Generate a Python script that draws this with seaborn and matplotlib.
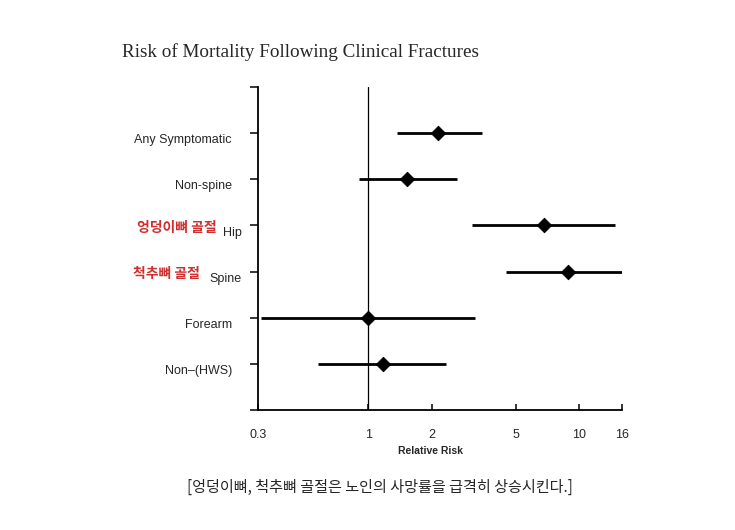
import matplotlib
matplotlib.use("Agg")
import matplotlib.pyplot as plt
import matplotlib.transforms as mtransforms
import seaborn as sns
import pandas as pd

# Relative risk with 95% CI (log scale)
fractures = ["Any Symptomatic", "Non-spine", "Hip", "Spine", "Forearm", "Non\u2013(HWS)"]
rr = [2.15, 1.53, 6.8, 8.9, 1.0, 1.18]
ci_low = [1.37, 0.90, 3.1, 4.5, 0.31, 0.58]
ci_high = [3.45, 2.65, 14.8, 16.4, 3.2, 2.33]
korean = {"Hip": "엉덩이뼈 골절", "Spine": "척추뼈 골절"}
xticks = [0.3, 1, 2, 5, 10, 16]

df = pd.DataFrame({"fracture": fractures, "rr": rr, "lo": ci_low, "hi": ci_high})
df["row"] = range(len(df), 0, -1)

sns.set_style("white")
fig = plt.figure(figsize=(7.35, 5.30), dpi=100)
ax = fig.add_axes([258 / 735, 1 - 410 / 530, 364 / 735, 323 / 530])

ax.hlines(df["row"], df["lo"], df["hi"], color="black", lw=2, zorder=2)
sns.scatterplot(data=df, x="rr", y="row", marker="D", s=55, color="black",
                edgecolor="black", zorder=3, ax=ax, legend=False)
ax.axvline(1, color="black", lw=0.9, zorder=1)

ax.set_xscale("log")
ax.set_xlim(0.3, 16)
ax.set_ylim(0, 7)
ax.set_xticks(xticks)
ax.set_xticklabels([str(t) for t in xticks], fontsize=9, family="Liberation Sans")
ax.minorticks_off()
ax.set_yticks(range(0, 8))
ax.set_yticklabels([])
ax.tick_params(axis="y", left=True, direction="out", length=5.5, width=1.1, color="black")
ax.tick_params(axis="x", bottom=True, direction="in", length=4.5, width=1.1, color="black", pad=14)

for side in ["top", "right"]:
    ax.spines[side].set_visible(False)
for side in ["left", "bottom"]:
    ax.spines[side].set_color("black")
    ax.spines[side].set_linewidth(1.3)

ax.set_xlabel("Relative Risk", fontsize=7.5, fontweight="bold", family="Liberation Sans")
ax.xaxis.set_label_coords((430 - 258) / 364, (410 - 446) / 323)
ax.set_ylabel("")

trans = mtransforms.blended_transform_factory(ax.transAxes, ax.transData)
for _, r in df.iterrows():
    name = r["fracture"]
    if name in korean:
        ax.text(-0.045, r["row"] - 0.17, name, transform=trans, ha="right", va="center",
                fontsize=9, family="Liberation Sans")
        kx = -0.115 if name == "Hip" else -0.16
        ax.text(kx, r["row"] - 0.06, korean[name], transform=trans, ha="right", va="center",
                fontsize=10, fontweight="bold", color="#d02f2f",
                family=["Noto Sans CJK KR", "DejaVu Sans"])
    else:
        ax.text(-0.072, r["row"] - 0.15, name, transform=trans, ha="right", va="center",
                fontsize=9, family="Liberation Sans")

fig.text(122 / 735, 1 - 52 / 530, "Risk of Mortality Following Clinical Fractures",
         ha="left", va="center", fontsize=13.8, family="Liberation Serif")
fig.text(380 / 735, 1 - 487 / 530, "[엉덩이뼈, 척추뼈 골절은 노인의 사망률을 급격히 상승시킨다.]",
         ha="center", va="center", fontsize=10.9, family=["Noto Sans CJK KR", "DejaVu Sans"])

fig.savefig("out.png", dpi=100, facecolor="white")
